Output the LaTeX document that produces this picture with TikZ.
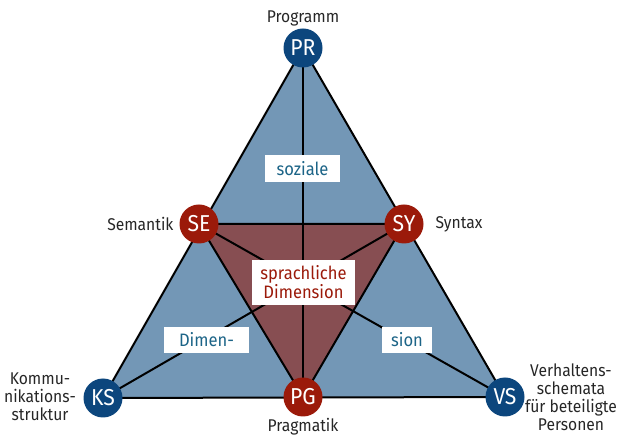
\documentclass[tikz,border=0pt]{standalone}
\usepackage{fontspec}
\setmainfont{Fira Sans}[FakeStretch=0.92]
\definecolor{outerfill}{RGB}{115,151,182}
\definecolor{innerfill}{RGB}{135,78,82}
\definecolor{cblue}{RGB}{12,70,125}
\definecolor{cred}{RGB}{155,26,10}
\definecolor{tblue}{RGB}{28,100,135}
\begin{document}
\begin{tikzpicture}[x=1pt,y=-1pt,
  vtx/.style={circle,minimum size=39pt,inner sep=0pt,text=white,font=\fontsize{23}{23}\selectfont},
  bluev/.style={vtx,fill=cblue},
  redv/.style={vtx,fill=cred},
  lab/.style={font=\fontsize{17}{18}\selectfont,align=center,text=black!85},
  tbox/.style={fill=white,inner sep=0pt,font=\fontsize{18}{19}\selectfont,align=center},
  edge/.style={line width=2pt,black}]
\useasboundingbox (0,0) rectangle (619,435);
\coordinate (pr) at (303,48);
\coordinate (se) at (199,224);
\coordinate (sy) at (404,224);
\coordinate (ks) at (103,398);
\coordinate (pg) at (303,397);
\coordinate (vs) at (505,397);
\fill[outerfill] (pr) -- (ks) -- (vs) -- cycle;
\fill[innerfill] (se) -- (sy) -- (pg) -- cycle;
\draw[edge,line join=round] (pr) -- (ks) -- (vs) -- cycle;
\draw[edge,line join=round] (se) -- (sy) -- (pg) -- cycle;
\draw[edge] (pr) -- (pg);
\draw[edge] (se) -- (vs);
\draw[edge] (sy) -- (ks);
\node[tbox,minimum width=75pt,minimum height=27pt,text=tblue] (soz) at (302.5,168.5) {soziale};
\node[tbox,minimum width=103pt,minimum height=45pt,text=cred] (spr) at (303.5,282.5) {sprachliche\\Dimension};
\node[tbox,minimum width=85pt,minimum height=26pt,text=tblue] (dim) at (206.5,340) {Dimen-};
\node[tbox,minimum width=50pt,minimum height=26pt,text=tblue] (sio) at (407,340) {sion};
\node[bluev] (PR) at (pr) {PR};
\node[redv] (SE) at (se) {SE};
\node[redv] (SY) at (sy) {SY};
\node[bluev] (KS) at (ks) {KS};
\node[redv] (PG) at (pg) {PG};
\node[bluev] (VS) at (vs) {VS};
\node[lab] (lpr) at (303,18) {Programm};
\node[lab,anchor=east] (lse) at (177,224) {Semantik};
\node[lab,anchor=west] (lsy) at (432,224) {Syntax};
\node[lab] (lks) at (40,397) {Kommu-\\nikations-\\struktur};
\node[lab] (lpg) at (303,427) {Pragmatik};
\node[lab] (lvs) at (571,397) {Verhaltens-\\schemata\\für beteiligte\\Personen};
\end{tikzpicture}
\end{document}
